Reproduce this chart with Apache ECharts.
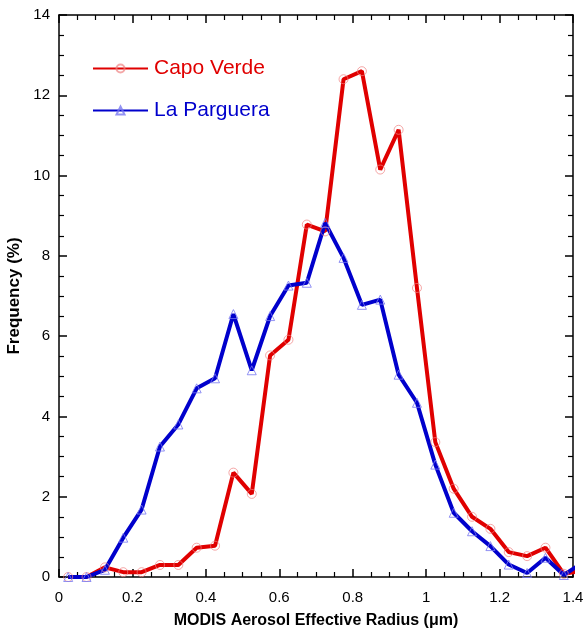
<!DOCTYPE html>
<html>
<head>
<meta charset="utf-8">
<script src="https://cdn.jsdelivr.net/npm/echarts@6/dist/echarts.min.js"></script>
<style>
  html, body { margin: 0; padding: 0; background: #fff; }
  #chart { width: 584px; height: 628px; }
</style>
</head>
<body>
<div id="chart"></div>
<script>
// bin centres of effective radius (um); last one sits past the axis and is clipped
var radius = [0.025, 0.075, 0.125, 0.175, 0.225, 0.275, 0.325, 0.375, 0.425, 0.475,
  0.525, 0.575, 0.625, 0.675, 0.725, 0.775, 0.825, 0.875, 0.925, 0.975,
  1.025, 1.075, 1.125, 1.175, 1.225, 1.275, 1.325, 1.375, 1.425];

var capoVerde = [0, 0, 0.24, 0.12, 0.12, 0.3, 0.3, 0.73, 0.78, 2.6,
  2.07, 5.52, 5.91, 8.78, 8.61, 12.4, 12.6, 10.15, 11.14, 7.2,
  3.36, 2.2, 1.5, 1.2, 0.62, 0.52, 0.73, 0.08, 0.15];

var laParguera = [0, 0, 0.18, 0.98, 1.68, 3.25, 3.8, 4.7, 4.95, 6.55,
  5.15, 6.5, 7.26, 7.33, 8.82, 7.95, 6.78, 6.91, 5.04, 4.34,
  2.8, 1.6, 1.14, 0.77, 0.31, 0.1, 0.48, 0.05, 0.35];

function pairs(ys) {
  return radius.map(function (x, i) { return [x, ys[i]]; });
}

var chart = echarts.init(document.getElementById('chart'));

var axisLine = { show: true, onZero: false, lineStyle: { color: '#000', width: 1.5 } };
var majorTick = { show: true, inside: true, length: 8, lineStyle: { color: '#000', width: 1.5 } };
var minorTick = { show: true, splitNumber: 4, length: 5, lineStyle: { color: '#000', width: 1.2 } };
var font = 'Liberation Sans, Arial, sans-serif';

var option = {
  animation: false,
  backgroundColor: '#fff',
  grid: { left: 59, right: 11, top: 15, bottom: 51, containLabel: false, outerBoundsMode: 'none' },
  legend: {
    orient: 'vertical',
    left: 87,
    top: 53,
    itemWidth: 55,
    itemHeight: 10,
    itemGap: 21,
    data: [
      { name: 'Capo Verde', textStyle: { color: '#e00000' } },
      { name: 'La Parguera', textStyle: { color: '#0000cc' } }
    ],
    textStyle: { fontFamily: font, fontSize: 21, padding: [0, 0, 0, 1] }
  },
  xAxis: [
    {
      type: 'value', min: 0, max: 1.4, interval: 0.2, position: 'bottom',
      axisLine: axisLine, axisTick: majorTick, minorTick: minorTick,
      splitLine: { show: false },
      axisLabel: { color: '#000', fontFamily: font, fontSize: 15, margin: 13 },
      name: 'MODIS Aerosol Effective Radius (\u03bcm)',
      nameLocation: 'middle', nameGap: 36,
      nameTextStyle: { color: '#000', fontFamily: font, fontSize: 16, fontWeight: 'bold' }
    },
    {
      type: 'value', min: 0, max: 1.4, interval: 0.2, position: 'top',
      axisLine: axisLine, axisTick: majorTick, minorTick: minorTick,
      splitLine: { show: false }, axisLabel: { show: false }
    }
  ],
  yAxis: [
    {
      type: 'value', min: 0, max: 14, interval: 2, position: 'left',
      axisLine: axisLine, axisTick: majorTick, minorTick: minorTick,
      splitLine: { show: false },
      axisLabel: { color: '#000', fontFamily: font, fontSize: 15, margin: 9 },
      name: 'Frequency (%)',
      nameLocation: 'middle', nameGap: 29,
      nameTextStyle: { color: '#000', fontFamily: font, fontSize: 17, fontWeight: 'bold' }
    },
    {
      type: 'value', min: 0, max: 14, interval: 2, position: 'right',
      axisLine: axisLine, axisTick: majorTick, minorTick: minorTick,
      splitLine: { show: false }, axisLabel: { show: false }
    }
  ],
  series: [
    {
      name: 'Capo Verde',
      type: 'line',
      data: pairs(capoVerde),
      clip: true,
      color: '#e00000',
      lineStyle: { color: '#e00000', width: 4 },
      symbol: 'circle',
      symbolSize: 9,
      showAllSymbol: true,
      itemStyle: { color: 'rgba(255,255,255,0)', borderColor: 'rgba(240,130,130,0.7)', borderWidth: 1 }
    },
    {
      name: 'La Parguera',
      type: 'line',
      data: pairs(laParguera),
      clip: true,
      color: '#0000cc',
      lineStyle: { color: '#0000cc', width: 4 },
      symbol: 'triangle',
      symbolSize: 9,
      showAllSymbol: true,
      itemStyle: { color: 'rgba(255,255,255,0)', borderColor: 'rgba(120,120,240,0.8)', borderWidth: 1 }
    }
  ]
};

chart.setOption(option);
</script>
</body>
</html>
